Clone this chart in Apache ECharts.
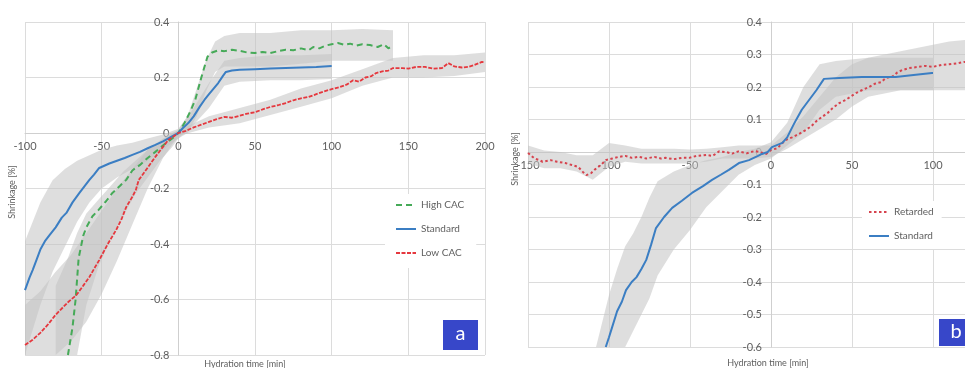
<!DOCTYPE html>
<html>
<head>
<meta charset="utf-8">
<script src="https://cdn.jsdelivr.net/npm/echarts@6/dist/echarts.min.js"></script>
<style>
  html, body { margin: 0; padding: 0; background: #fff; }
  #chart { width: 965px; height: 368px; }
</style>
</head>
<body>
<div id="chart"></div>
<script>
// ---------- Panel a: shrinkage vs hydration time for three cement mixes ----------
const highCacX = [-72, -69, -67, -65, -62, -60, -56, -52, -47, -43, -38, -34, -30, -25, -20, -15, -8, -4, 0, 4, 8, 11, 15, 19, 22, 26, 30, 35, 40, 45, 50, 55, 60, 65, 70, 75, 80, 85, 88, 92, 96, 100, 104, 108, 112, 116, 120, 125, 130, 134, 137, 140];
const highCacY = [-0.80, -0.70, -0.60, -0.45, -0.37, -0.34, -0.30, -0.277, -0.245, -0.216, -0.19, -0.169, -0.135, -0.115, -0.09, -0.068, -0.036, -0.02, 0, 0.036, 0.08, 0.119, 0.20, 0.275, 0.29, 0.298, 0.295, 0.30, 0.296, 0.29, 0.288, 0.292, 0.288, 0.295, 0.30, 0.298, 0.305, 0.298, 0.31, 0.305, 0.315, 0.32, 0.324, 0.318, 0.322, 0.315, 0.32, 0.317, 0.31, 0.32, 0.305, 0.315];

const stdAX = [-100, -97, -95, -92, -90, -87, -84, -80, -76, -73, -69, -64.5, -58, -55, -51.6, -45, -40, -35, -30, -25, -20, -15, -10, -5, 0, 3, 6.5, 10, 14, 17, 20, 23, 26, 29, 31, 35, 40, 50, 60, 70, 80, 90, 100];
const stdAY = [-0.566, -0.52, -0.494, -0.45, -0.42, -0.39, -0.368, -0.34, -0.305, -0.288, -0.25, -0.216, -0.169, -0.15, -0.126, -0.11, -0.10, -0.09, -0.079, -0.068, -0.055, -0.043, -0.03, -0.015, 0, 0.018, 0.036, 0.06, 0.095, 0.119, 0.14, 0.16, 0.18, 0.205, 0.22, 0.225, 0.228, 0.23, 0.232, 0.234, 0.236, 0.238, 0.241];

const lowCacX = [-100, -95, -90, -85, -80, -77, -72, -66.5, -62, -58, -55, -51.6, -46, -40.6, -37, -34, -30, -27.7, -25.8, -20, -15, -10, -6.5, 0, 5, 10, 15, 20, 25, 30, 35, 40, 45, 50, 55, 60, 65, 70, 75, 80, 85, 90, 95, 100, 105, 110, 114, 118, 122, 126, 129, 133, 137, 140, 146, 150, 155, 161, 166, 172, 176, 180, 185, 189, 193, 198, 200];
const lowCacY = [-0.764, -0.745, -0.72, -0.69, -0.655, -0.638, -0.61, -0.584, -0.55, -0.519, -0.49, -0.458, -0.40, -0.35, -0.31, -0.267, -0.23, -0.205, -0.169, -0.125, -0.086, -0.05, -0.025, 0, 0.008, 0.02, 0.03, 0.04, 0.05, 0.058, 0.055, 0.062, 0.07, 0.075, 0.085, 0.094, 0.10, 0.108, 0.118, 0.125, 0.13, 0.14, 0.15, 0.158, 0.165, 0.175, 0.19, 0.185, 0.20, 0.205, 0.216, 0.222, 0.225, 0.234, 0.234, 0.232, 0.238, 0.238, 0.232, 0.234, 0.252, 0.24, 0.236, 0.238, 0.245, 0.256, 0.255];

// scatter bands (lower / upper envelope of the repeat measurements)
const highCacBandX = [-80, -72, -66, -60, -52, -44, -36, -28, -20, -12, -4, 0, 6, 12, 18, 24, 30, 40, 60, 80, 100, 120, 140];
const highCacBandHi = [-0.55, -0.45, -0.36, -0.29, -0.24, -0.19, -0.14, -0.10, -0.06, -0.03, 0, 0.01, 0.06, 0.16, 0.26, 0.33, 0.35, 0.36, 0.36, 0.37, 0.37, 0.375, 0.37];
const highCacBandLo = [-0.80, -0.80, -0.80, -0.62, -0.48, -0.38, -0.30, -0.22, -0.16, -0.10, -0.05, -0.02, 0.0, 0.06, 0.15, 0.22, 0.24, 0.24, 0.24, 0.25, 0.26, 0.26, 0.26];

const stdABandX = [-100, -90, -82, -74, -66, -58, -50, -40, -30, -20, -10, 0, 10, 20, 30, 40, 60, 80, 100];
const stdABandHi = [-0.39, -0.25, -0.17, -0.13, -0.10, -0.08, -0.06, -0.045, -0.035, -0.02, -0.005, 0.015, 0.09, 0.18, 0.26, 0.27, 0.28, 0.28, 0.285];
const stdABandLo = [-0.80, -0.62, -0.50, -0.41, -0.32, -0.25, -0.20, -0.16, -0.13, -0.10, -0.06, -0.02, 0.03, 0.09, 0.17, 0.185, 0.19, 0.19, 0.195];

const lowCacBandX = [-100, -90, -80, -70, -60, -50, -40, -30, -20, -10, 0, 20, 40, 60, 80, 100, 120, 140, 160, 180, 200];
const lowCacBandHi = [-0.62, -0.57, -0.50, -0.44, -0.36, -0.28, -0.20, -0.13, -0.06, -0.02, 0.01, 0.06, 0.09, 0.12, 0.16, 0.19, 0.23, 0.27, 0.28, 0.28, 0.29];
const lowCacBandLo = [-0.80, -0.80, -0.80, -0.75, -0.68, -0.58, -0.46, -0.33, -0.20, -0.09, -0.01, 0.02, 0.035, 0.065, 0.095, 0.125, 0.17, 0.20, 0.20, 0.205, 0.22];

// ---------- Panel b: retarded vs standard mix ----------
const retX = [-150, -146, -143, -141, -136, -132, -127, -123, -119, -116, -114, -111, -109, -105, -102, -98, -94, -90, -86, -81.5, -77, -72, -68, -65, -60, -55, -50.6, -46, -40, -36, -32, -28, -24, -20, -15, -10, -7, -3, 0, 4, 9, 13, 17, 21.6, 25, 28, 31.5, 35, 38, 42, 46, 49, 52, 56, 60.5, 64, 68, 71, 75, 78, 81, 85, 88, 91, 95, 100, 105.5, 110, 115, 119, 125, 130, 135, 140, 145, 150];
const retY = [-0.003, -0.02, -0.025, -0.03, -0.025, -0.03, -0.034, -0.04, -0.046, -0.062, -0.071, -0.065, -0.055, -0.04, -0.025, -0.02, -0.015, -0.012, -0.018, -0.015, -0.02, -0.015, -0.02, -0.018, -0.022, -0.018, -0.018, -0.012, -0.009, -0.012, 0.002, 0, -0.005, 0.002, -0.004, 0.003, 0, -0.006, 0.006, 0.012, 0.037, 0.045, 0.055, 0.068, 0.08, 0.095, 0.108, 0.12, 0.135, 0.15, 0.16, 0.17, 0.18, 0.19, 0.20, 0.21, 0.215, 0.228, 0.232, 0.245, 0.252, 0.258, 0.26, 0.262, 0.265, 0.262, 0.268, 0.27, 0.273, 0.277, 0.275, 0.28, 0.282, 0.28, 0.285, 0.285];

const stdBX = [-102, -100, -98, -95, -92, -89.5, -86, -83, -80, -77, -74, -71, -66, -61, -55, -48.8, -42, -36.4, -31, -26, -19.8, -13.6, -8, -5.6, -2, 0.6, 4, 7, 10, 13, 15.4, 19, 23.5, 28, 32.7, 42, 56, 70, 77, 88, 99.4, 100];
const stdBY = [-0.60, -0.57, -0.538, -0.49, -0.46, -0.425, -0.40, -0.385, -0.36, -0.332, -0.285, -0.234, -0.20, -0.172, -0.15, -0.126, -0.105, -0.086, -0.07, -0.055, -0.034, -0.025, -0.012, -0.006, 0, 0.015, 0.022, 0.028, 0.045, 0.075, 0.098, 0.13, 0.16, 0.19, 0.225, 0.228, 0.231, 0.231, 0.231, 0.237, 0.243, 0.243];

const retBandX = [-150, -140, -130, -120, -110, -100, -90, -80, -70, -60, -50, -40, -30, -20, -10, 0, 10, 20, 30, 40, 50, 60, 70, 80, 90, 100, 110, 120, 130, 140, 150];
const retBandHi = [0.02, 0.005, 0, -0.01, -0.01, 0.028, 0.02, 0.01, 0.01, 0.01, 0.008, 0.01, 0.015, 0.02, 0.02, 0.02, 0.06, 0.11, 0.17, 0.23, 0.27, 0.29, 0.30, 0.31, 0.32, 0.33, 0.34, 0.345, 0.345, 0.34, 0.34];
const retBandLo = [-0.035, -0.05, -0.05, -0.06, -0.085, -0.045, -0.03, -0.035, -0.035, -0.035, -0.035, -0.03, -0.02, -0.02, -0.02, -0.015, 0.01, 0.04, 0.07, 0.10, 0.14, 0.17, 0.18, 0.19, 0.19, 0.19, 0.19, 0.19, 0.19, 0.19, 0.19];

const stdBBandX = [-108, -100, -95, -90, -85, -80, -75, -70, -60, -50, -40, -30, -20, -10, 0, 10, 20, 30, 40, 60, 80, 100];
const stdBBandHi = [-0.60, -0.44, -0.36, -0.29, -0.25, -0.20, -0.14, -0.09, -0.06, -0.04, -0.025, -0.015, 0, 0.01, 0.03, 0.09, 0.20, 0.27, 0.28, 0.29, 0.29, 0.29];
const stdBBandLo = [-0.60, -0.60, -0.60, -0.60, -0.55, -0.50, -0.45, -0.38, -0.30, -0.24, -0.17, -0.12, -0.07, -0.04, -0.02, 0.02, 0.06, 0.13, 0.17, 0.19, 0.19, 0.19];

// axis ranges and tick steps
const aXTicks = { min: -100, max: 200, step: 50 };
const aYTicks = { min: -0.8, max: 0.4, step: 0.2 };
const bXTicks = { min: -150, max: 150, step: 50 };
const bYTicks = { min: -0.6, max: 0.4, step: 0.1 };

const FONT = 'Lato, "Open Sans", sans-serif';
const GRID_COLOR = '#dcdcdc';
const TEXT_COLOR = '#606060';

// plot rectangles of the two panels (panel b runs past the right edge of the canvas)
const gridA = { left: 25, top: 22, width: 460, height: 333, outerBoundsMode: 'none', containLabel: false };
const gridB = { left: 528, top: 22, width: 486, height: 325, outerBoundsMode: 'none', containLabel: false };

const pairs = (xs, ys) => xs.map((x, i) => [x, ys[i]]);
const triples = (xs, lo, hi) => xs.map((x, i) => [x, lo[i], hi[i]]);

// shaded envelope drawn as a single polygon through the axis scales
function bandSeries(xs, lo, hi, axisIndex) {
  const data = triples(xs, lo, hi);
  return {
    type: 'custom',
    xAxisIndex: axisIndex,
    yAxisIndex: axisIndex,
    silent: true,
    z: 1,
    encode: { x: 0, y: [1, 2] },
    data: data,
    renderItem: function (params, api) {
      if (params.dataIndex !== 0) return null;
      const upper = data.map(d => api.coord([d[0], d[2]]));
      const lower = data.map(d => api.coord([d[0], d[1]])).reverse();
      return {
        type: 'polygon',
        shape: { points: upper.concat(lower) },
        style: { fill: 'rgba(195,195,195,0.55)' }
      };
    }
  };
}

function lineSeries(name, xs, ys, color, type, width, axisIndex) {
  return {
    name: name,
    type: 'line',
    xAxisIndex: axisIndex,
    yAxisIndex: axisIndex,
    data: pairs(xs, ys),
    showSymbol: false,
    symbol: 'none',
    z: 3,
    lineStyle: { color: color, type: type, width: width },
    itemStyle: { color: color }
  };
}

// the axes cross at the origin: shift each axis from the plot edge to the zero of the other
function xAxisCfg(t, yT, grid, gridIndex) {
  const zeroFromBottom = (0 - yT.min) / (yT.max - yT.min) * grid.height;
  return {
    type: 'value', gridIndex: gridIndex, position: 'bottom',
    offset: -zeroFromBottom,
    min: t.min, max: t.max, interval: t.step,
    axisLine: { onZero: false, lineStyle: { color: '#cfcfcf' } },
    axisTick: { show: false },
    splitLine: { show: true, lineStyle: { color: GRID_COLOR } },
    axisLabel: { color: TEXT_COLOR, fontFamily: FONT, fontSize: 11, margin: 8, hideOverlap: false }
  };
}

function yAxisCfg(t, xT, grid, gridIndex) {
  const zeroFromLeft = (0 - xT.min) / (xT.max - xT.min) * grid.width;
  return {
    type: 'value', gridIndex: gridIndex, position: 'left',
    offset: -zeroFromLeft,
    min: t.min, max: t.max, interval: t.step,
    axisLine: { onZero: false, lineStyle: { color: '#cfcfcf' } },
    axisTick: { show: false },
    splitLine: { show: true, lineStyle: { color: GRID_COLOR } },
    axisLabel: {
      color: TEXT_COLOR, fontFamily: FONT, fontSize: 11, margin: 9, hideOverlap: false,
      formatter: v => (Math.abs(v) < 1e-9 ? '0' : v.toFixed(1))
    }
  };
}

const chart = echarts.init(document.getElementById('chart'), null, { renderer: 'canvas' });

const legendText = { color: TEXT_COLOR, fontFamily: FONT, fontSize: 10 };
const hiddenMarker = { color: 'rgba(0,0,0,0)', borderColor: 'rgba(0,0,0,0)', borderWidth: 0 };

chart.setOption({
  backgroundColor: '#ffffff',
  animation: false,
  grid: [gridA, gridB],
  xAxis: [xAxisCfg(aXTicks, aYTicks, gridA, 0), xAxisCfg(bXTicks, bYTicks, gridB, 1)],
  yAxis: [yAxisCfg(aYTicks, aXTicks, gridA, 0), yAxisCfg(bYTicks, bXTicks, gridB, 1)],
  legend: [
    {
      data: ['High CAC', 'Standard', 'Low CAC'],
      orient: 'vertical', left: 385, top: 194,
      itemWidth: 20, itemHeight: 10, itemGap: 14,
      backgroundColor: '#ffffff', padding: [6, 12, 10, 10],
      itemStyle: hiddenMarker,
      textStyle: legendText, selectedMode: false
    },
    {
      data: ['Retarded', 'Standard'],
      orient: 'vertical', left: 862, top: 201,
      itemWidth: 20, itemHeight: 10, itemGap: 14,
      backgroundColor: '#ffffff', padding: [6, 8, 8, 6],
      itemStyle: hiddenMarker,
      textStyle: legendText, selectedMode: false
    }
  ],
  series: [
    bandSeries(stdABandX, stdABandLo, stdABandHi, 0),
    bandSeries(highCacBandX, highCacBandLo, highCacBandHi, 0),
    bandSeries(lowCacBandX, lowCacBandLo, lowCacBandHi, 0),
    lineSeries('High CAC', highCacX, highCacY, '#46aa58', [6, 4], 2, 0),
    lineSeries('Standard', stdAX, stdAY, '#3b7ec3', 'solid', 2, 0),
    lineSeries('Low CAC', lowCacX, lowCacY, '#e5383e', [4, 1.5], 1.8, 0),

    bandSeries(retBandX, retBandLo, retBandHi, 1),
    bandSeries(stdBBandX, stdBBandLo, stdBBandHi, 1),
    lineSeries('Retarded', retX, retY, '#d6434e', [2.5, 2.5], 2, 1),
    lineSeries('Standard', stdBX, stdBY, '#3b7ec3', 'solid', 2, 1)
  ],
  graphic: [
    { type: 'text', x: 12, y: 192, rotation: Math.PI / 2,
      style: { text: 'Shrinkage [%]', fill: TEXT_COLOR, font: '9px ' + FONT, align: 'center', verticalAlign: 'middle' } },
    { type: 'text', x: 245, y: 364,
      style: { text: 'Hydration time [min]', fill: TEXT_COLOR, font: '9px ' + FONT, align: 'center', verticalAlign: 'middle' } },
    { type: 'text', x: 515, y: 159, rotation: Math.PI / 2,
      style: { text: 'Shrinkage [%]', fill: TEXT_COLOR, font: '9px ' + FONT, align: 'center', verticalAlign: 'middle' } },
    { type: 'text', x: 768, y: 363,
      style: { text: 'Hydration time [min]', fill: TEXT_COLOR, font: '9px ' + FONT, align: 'center', verticalAlign: 'middle' } },

    { type: 'rect', shape: { x: 443, y: 320, width: 35, height: 30 }, style: { fill: '#3747c9' }, z: 10 },
    { type: 'text', x: 460.5, y: 334, z: 11,
      style: { text: 'a', fill: '#ffffff', font: '20px ' + FONT, align: 'center', verticalAlign: 'middle' } },
    { type: 'rect', shape: { x: 939, y: 319, width: 36, height: 27 }, style: { fill: '#3747c9' }, z: 10 },
    { type: 'text', x: 956, y: 332, z: 11,
      style: { text: 'b', fill: '#ffffff', font: '20px ' + FONT, align: 'center', verticalAlign: 'middle' } }
  ]
});
</script>
</body>
</html>
